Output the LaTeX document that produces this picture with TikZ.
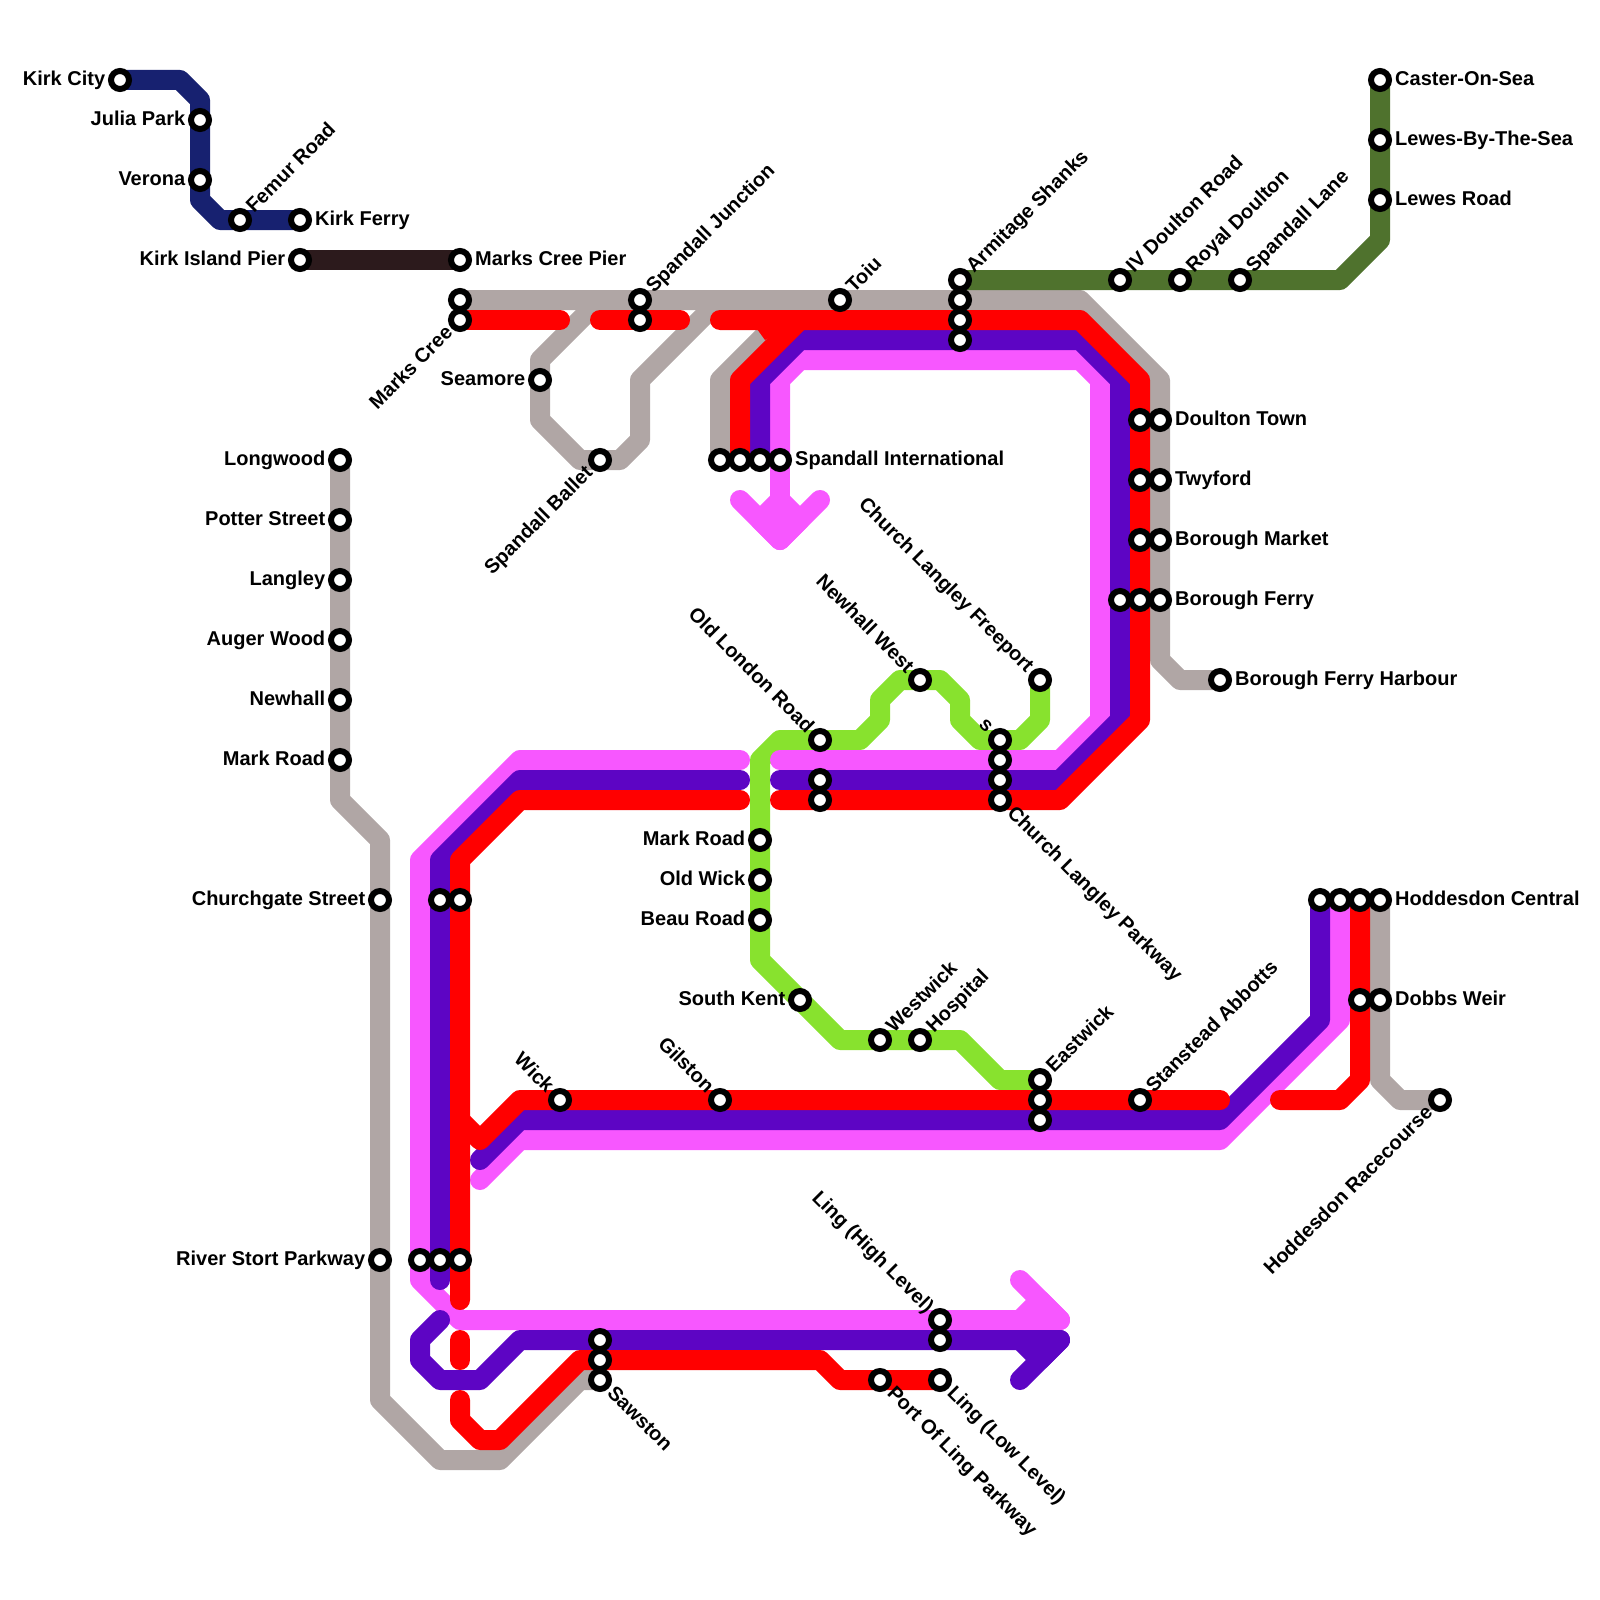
\documentclass[tikz,border=0pt]{standalone}
\usepackage{fontspec}
\setmainfont{Liberation Sans}
\definecolor{cgray}{HTML}{B0A6A5}
\definecolor{cred}{HTML}{FF0000}
\definecolor{cpurple}{HTML}{5D05C4}
\definecolor{cpink}{HTML}{F757FF}
\definecolor{cgreen}{HTML}{88E22E}
\definecolor{cdgreen}{HTML}{4F722D}
\definecolor{cnavy}{HTML}{172170}
\definecolor{cbrown}{HTML}{2C1A1C}
\tikzset{
  route/.style={line width=10pt,line cap=round,line join=round},
  station/.style={circle,draw=black,fill=white,line width=3pt,minimum size=9pt,inner sep=0pt},
  lab/.style={font=\fontsize{10pt}{12pt}\selectfont\bfseries,inner sep=0pt,text=black}
}
% station, rotation, text; w = text starts at station, e = text ends at station; h = horizontal
\newcommand{\labw}[3]{\path (#1.center) ++(#2:7pt) ++(#2-90:2.75pt) node[lab,anchor=base west,rotate=#2,name=l-#1] {#3};}
\newcommand{\labe}[3]{\path (#1.center) ++(#2+180:7pt) ++(#2-90:2.75pt) node[lab,anchor=base east,rotate=#2,name=l-#1] {#3};}
\newcommand{\labhw}[2]{\path (#1.center) ++(7.4pt,-2.75pt) node[lab,anchor=base west,name=l-#1] {#2};}
\newcommand{\labhe}[2]{\path (#1.center) ++(-7.2pt,-2.75pt) node[lab,anchor=base east,name=l-#1] {#2};}
\begin{document}
\begin{tikzpicture}[x=0.5pt,y=-0.5pt]
\useasboundingbox (0,0) rectangle (1600,1600);
% gray
\draw[route,cgray] (340,460)--(340,800)--(380,840)--(380,1400)--(440,1460)--(500,1460)--(580,1380)--(600,1380);
\draw[route,cgray] (460,300)--(1080,300)--(1160,380)--(1160,660)--(1180,680)--(1220,680);
\draw[route,cgray] (600,300)--(540,360)--(540,420)--(580,460)--(620,460)--(640,440)--(640,380)--(720,300);
\draw[route,cgray] (720,460)--(720,380)--(780,320);
\draw[route,cgray] (1380,900)--(1380,1080)--(1400,1100)--(1440,1100);
% navy, brown, dark green
\draw[route,cnavy] (120,80)--(180,80)--(200,100)--(200,200)--(220,220)--(300,220);
\draw[route,cbrown] (300,260)--(460,260);
\draw[route,cdgreen] (960,280)--(1340,280)--(1380,240)--(1380,80);
% light green
\draw[route,cgreen] (1040,680)--(1040,720)--(1020,740)--(980,740)--(960,720)--(960,700)--(940,680)--(900,680)--(880,700)--(880,720)--(860,740)--(780,740)--(760,760)--(760,960)--(840,1040)--(960,1040)--(1000,1080)--(1040,1080);
% pink
\draw[route,cpink] (780,460)--(780,380)--(800,360)--(1080,360)--(1100,380)--(1100,720)--(1060,760)--(780,760);
\draw[route,cpink] (780,460)--(780,540);
\draw[route,cpink] (740,500)--(780,540)--(820,500);
\draw[route,cpink,fill=cpink] (780,500)--(760,520)--(780,540)--(800,520)--cycle;
\draw[route,cpink] (740,760)--(520,760)--(420,860)--(420,1280)--(460,1320)--(1060,1320)--(1020,1280);
\draw[route,cpink,fill=cpink] (1040,1300)--(1020,1320)--(1060,1320)--cycle;
\draw[route,cpink] (1340,900)--(1340,1020)--(1220,1140)--(520,1140)--(480,1180);
% purple
\draw[route,cpurple] (760,460)--(760,380)--(800,340)--(1080,340)--(1120,380)--(1120,720)--(1060,780)--(780,780);
\draw[route,cpurple] (740,780)--(520,780)--(440,860)--(440,1280);
\draw[route,cpurple] (1320,900)--(1320,1020)--(1220,1120)--(520,1120)--(480,1160);
\draw[route,cpurple] (440,1320)--(420,1340)--(420,1360)--(440,1380)--(480,1380)--(520,1340)--(1060,1340)--(1020,1380);
\draw[route,cpurple,fill=cpurple] (1040,1360)--(1020,1340)--(1060,1340)--cycle;
% red
\draw[route,cred] (460,320)--(560,320);
\draw[route,cred] (600,320)--(680,320);
\draw[route,cred] (720,320)--(1080,320)--(1140,380)--(1140,720)--(1060,800)--(780,800);
\draw[route,cred] (740,460)--(740,380)--(800,320);
\fill[cred] (757,329)--(785,329)--(765,340)--cycle;
\draw[route,cred] (740,800)--(520,800)--(460,860)--(460,1300);
\draw[route,cred] (460,1120)--(480,1140)--(520,1100)--(1220,1100);
\draw[route,cred] (460,1340)--(460,1360);
\draw[route,cred] (460,1400)--(460,1420)--(480,1440)--(500,1440)--(580,1360)--(820,1360)--(840,1380)--(940,1380);
\draw[route,cred] (1280,1100)--(1340,1100)--(1360,1080)--(1360,900);
% stations
\foreach \n/\x/\y in {
 kirkcity/120/80, julia/200/120, verona/200/180, femur/240/220, kirkferry/300/220,
 kirkisland/300/260, markspier/460/260, mc1/460/300, markscree/460/320, seamore/540/380,
 ballet/600/460, junction/640/300, j2/640/320, toiu/840/300, armitage/960/280,
 a2/960/300, a3/960/320, a4/960/340, ivdoulton/1120/280, royal/1180/280, spanlane/1240/280,
 caster/1380/80, lewessea/1380/140, lewesroad/1380/200,
 si1/720/460, si2/740/460, si3/760/460, international/780/460,
 dt1/1140/420, doulton/1160/420, tw1/1140/480, twyford/1160/480, bm1/1140/540, boroughmarket/1160/540,
 bf0/1120/600, bf1/1140/600, boroughferry/1160/600, harbour/1220/680,
 newhallwest/920/680, freeport/1040/680, oldlondon/820/740, ol2/820/780, ol3/820/800,
 cls/1000/740, cl2/1000/760, cl3/1000/780, parkway/1000/800,
 longwood/340/460, potter/340/520, langley/340/580, auger/340/640, newhall/340/700, markroadw/340/760,
 churchgate/380/900, stort/380/1260, cg1/440/900, cg2/460/900, rs1/420/1260, rs2/440/1260, rs3/460/1260,
 markroad/760/840, oldwick/760/880, beau/760/920, southkent/800/1000, westwick/880/1040, hospital/920/1040,
 eastwick/1040/1080, e2/1040/1100, e3/1040/1120, stanstead/1140/1100, wick/560/1100, gilston/720/1100,
 linghigh/940/1320, lh2/940/1340, linglow/940/1380, portling/880/1380,
 sa1/600/1340, sa2/600/1360, sawston/600/1380, racecourse/1440/1100,
 ho1/1320/900, ho2/1340/900, ho3/1360/900, central/1380/900, do1/1360/1000, dobbs/1380/1000}
 {\node[station] (\n) at (\x,\y) {};}
% horizontal labels
\labhe{kirkcity}{Kirk City}
\labhe{julia}{Julia Park}
\labhe{verona}{Verona}
\labhw{kirkferry}{Kirk Ferry}
\labhe{kirkisland}{Kirk Island Pier}
\labhw{markspier}{Marks Cree Pier}
\labhe{seamore}{Seamore}
\labhw{caster}{Caster-On-Sea}
\labhw{lewessea}{Lewes-By-The-Sea}
\labhw{lewesroad}{Lewes Road}
\labhw{international}{Spandall International}
\labhw{doulton}{Doulton Town}
\labhw{twyford}{Twyford}
\labhw{boroughmarket}{Borough Market}
\labhw{boroughferry}{Borough Ferry}
\labhw{harbour}{Borough Ferry Harbour}
\labhe{longwood}{Longwood}
\labhe{potter}{Potter Street}
\labhe{langley}{Langley}
\labhe{auger}{Auger Wood}
\labhe{newhall}{Newhall}
\labhe{markroadw}{Mark Road}
\labhe{churchgate}{Churchgate Street}
\labhe{stort}{River Stort Parkway}
\labhe{markroad}{Mark Road}
\labhe{oldwick}{Old Wick}
\labhe{beau}{Beau Road}
\labhe{southkent}{South Kent}
\labhw{central}{Hoddesdon Central}
\labhw{dobbs}{Dobbs Weir}
% rotated labels
\labw{femur}{45}{Femur Road}
\labe{markscree}{45}{Marks Cree}
\labe{ballet}{45}{Spandall Ballet}
\labw{junction}{45}{Spandall Junction}
\labw{toiu}{45}{Toiu}
\labw{armitage}{45}{Armitage Shanks}
\labw{ivdoulton}{45}{IV Doulton Road}
\labw{royal}{45}{Royal Doulton}
\labw{spanlane}{45}{Spandall Lane}
\labe{freeport}{-45}{Church Langley Freeport}
\labe{newhallwest}{-45}{Newhall West}
\labe{oldlondon}{-45}{Old London Road}
\labe{cls}{-45}{s}
\labw{parkway}{-45}{Church Langley Parkway}
\labw{westwick}{45}{Westwick}
\labw{hospital}{45}{Hospital}
\labw{eastwick}{45}{Eastwick}
\labw{stanstead}{45}{Stanstead Abbotts}
\labe{wick}{-45}{Wick}
\labe{gilston}{-45}{Gilston}
\labe{linghigh}{-45}{Ling (High Level)}
\labw{linglow}{-45}{Ling (Low Level)}
\labw{portling}{-45}{Port Of Ling Parkway}
\labw{sawston}{-45}{Sawston}
\labe{racecourse}{45}{Hoddesdon Racecourse}
\end{tikzpicture}
\end{document}
